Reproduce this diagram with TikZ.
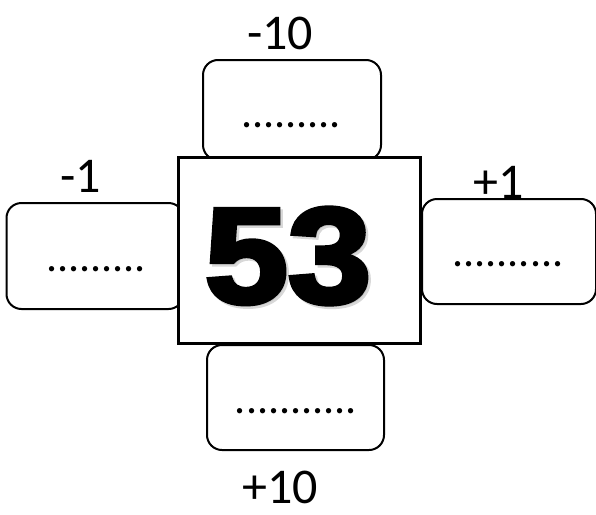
\documentclass[tikz,border=0pt]{standalone}
\usepackage{fontspec}
\setmainfont{Carlito}
\newfontfamily\heavyfont[FakeBold=3.5]{Liberation Sans Bold}
\tikzset{
  answerbox/.style={draw, line width=2pt, rounded corners=15pt, fill=white, inner sep=0pt},
  dots/.style={font=\fontsize{44}{44}\selectfont, inner sep=0pt},
  step label/.style={font=\fontsize{50}{50}\selectfont, inner sep=0pt},
  big number/.style={xscale=1.1, font=\heavyfont\fontsize{136}{136}\selectfont, inner sep=0pt}
}
\begin{document}
\begin{tikzpicture}[x=1pt,y=-1pt]
  \useasboundingbox (0,0) rectangle (596,514);
  % boxes round the number
  \node[answerbox, minimum width=178pt, minimum height=100pt] (upbox) at (292,110) {};
  \node[answerbox, minimum width=177pt, minimum height=106pt] (leftbox) at (95,256) {};
  \node[answerbox, minimum width=174pt, minimum height=105pt] (rightbox) at (509,251.5) {};
  \node[answerbox, minimum width=177pt, minimum height=105pt] (downbox) at (295.5,397.5) {};
  % the number
  \node[draw, line width=2.5pt, fill=white, minimum width=242pt, minimum height=186pt, inner sep=0pt]
    (number) at (299.5,250.5) {};
  \node[big number, text=black!30, opacity=0.5] (shadow) at (290.5,258.5) {53};
  \node[big number] (value) at (288,256) {53};
  % dots
  \node[dots] (updots) at (291,125) {.........};
  \node[dots] (leftdots) at (96,269) {.........};
  \node[dots] (rightdots) at (508,264) {..........};
  \node[dots] (downdots) at (296,411) {...........};
  % labels
  \node[step label] (minusten) at (280,33) {-10};
  \node[step label] (minusone) at (81,176) {-1};
  \node[step label] (plusone) at (499,182) {+1};
  \node[step label] (plusten) at (280,487) {+10};
\end{tikzpicture}
\end{document}
